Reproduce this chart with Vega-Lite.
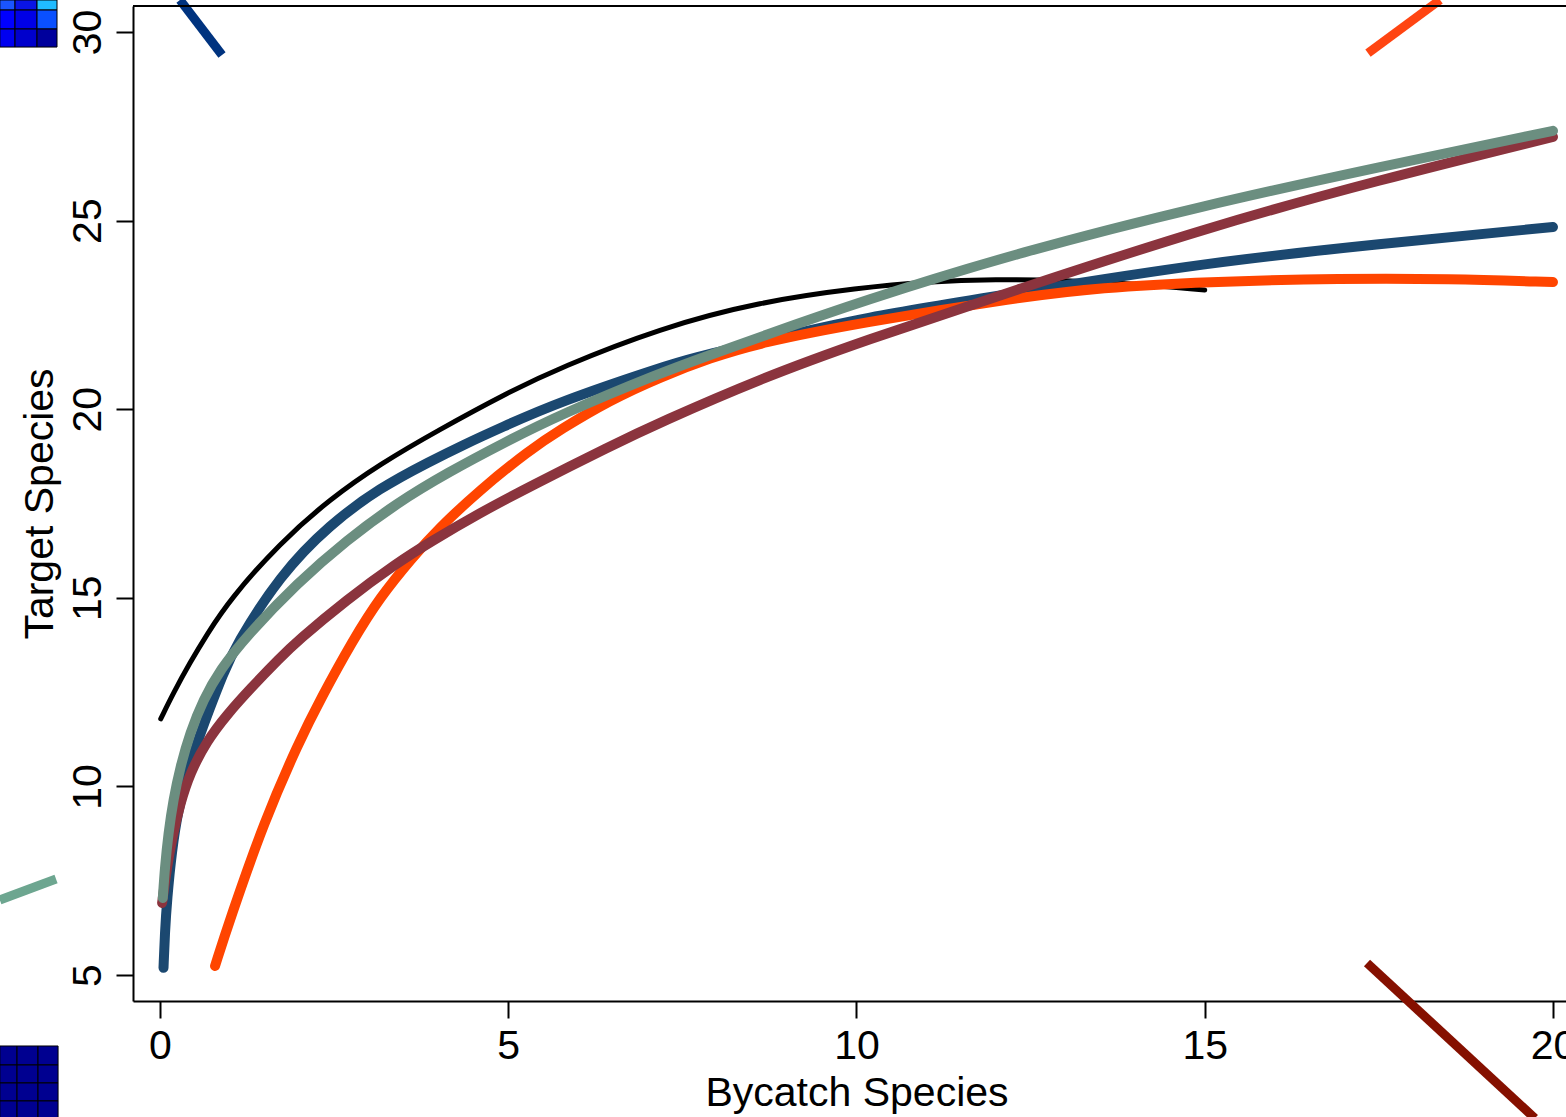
{
  "$schema": "https://vega.github.io/schema/vega-lite/v6.json",
  "width": 1433,
  "height": 995,
  "autosize": {"type": "none"},
  "padding": {"left": 133, "top": 6, "right": 0, "bottom": 116},
  "background": "white",
  "config": {"view": {"stroke": null}, "font": "Liberation Sans"},
  "datasets": {
    "curves": [
      {"s": "k", "x": 0.01, "y": 11.79}, {"s": "k", "x": 0.19, "y": 12.47}, {"s": "k", "x": 0.43, "y": 13.28}, {"s": "k", "x": 0.67, "y": 14.02}, {"s": "k", "x": 1.0, "y": 14.95}, {"s": "k", "x": 1.72, "y": 16.45}, {"s": "k", "x": 2.44, "y": 17.62}, {"s": "k", "x": 3.16, "y": 18.55}, {"s": "k", "x": 4.0, "y": 19.45}, {"s": "k", "x": 5.0, "y": 20.45}, {"s": "k", "x": 5.74, "y": 21.1}, {"s": "k", "x": 7.18, "y": 22.15}, {"s": "k", "x": 8.61, "y": 22.85}, {"s": "k", "x": 10.05, "y": 23.22}, {"s": "k", "x": 11.0, "y": 23.38}, {"s": "k", "x": 12.0, "y": 23.45}, {"s": "k", "x": 13.0, "y": 23.42}, {"s": "k", "x": 14.0, "y": 23.32}, {"s": "k", "x": 15.0, "y": 23.16},

      {"s": "b", "x": 0.05, "y": 5.19}, {"s": "b", "x": 0.07, "y": 6.11}, {"s": "b", "x": 0.1, "y": 6.99}, {"s": "b", "x": 0.17, "y": 8.31}, {"s": "b", "x": 0.26, "y": 9.37}, {"s": "b", "x": 0.38, "y": 10.25}, {"s": "b", "x": 0.53, "y": 11.15}, {"s": "b", "x": 0.72, "y": 12.1}, {"s": "b", "x": 0.9, "y": 12.95}, {"s": "b", "x": 1.08, "y": 13.72}, {"s": "b", "x": 1.72, "y": 15.6}, {"s": "b", "x": 2.44, "y": 16.95}, {"s": "b", "x": 3.16, "y": 17.92}, {"s": "b", "x": 3.88, "y": 18.62}, {"s": "b", "x": 4.35, "y": 19.05}, {"s": "b", "x": 4.88, "y": 19.5}, {"s": "b", "x": 5.74, "y": 20.2}, {"s": "b", "x": 7.18, "y": 21.1}, {"s": "b", "x": 7.65, "y": 21.36}, {"s": "b", "x": 8.61, "y": 21.78}, {"s": "b", "x": 10.05, "y": 22.42}, {"s": "b", "x": 12.35, "y": 23.1}, {"s": "b", "x": 15.0, "y": 23.88}, {"s": "b", "x": 17.5, "y": 24.38}, {"s": "b", "x": 20.0, "y": 24.83},

      {"s": "o", "x": 0.79, "y": 5.24}, {"s": "o", "x": 1.0, "y": 6.45}, {"s": "o", "x": 1.5, "y": 9.1}, {"s": "o", "x": 2.0, "y": 11.2}, {"s": "o", "x": 2.3, "y": 12.3}, {"s": "o", "x": 2.77, "y": 13.88}, {"s": "o", "x": 3.16, "y": 15.02}, {"s": "o", "x": 3.63, "y": 16.08}, {"s": "o", "x": 3.98, "y": 16.8}, {"s": "o", "x": 4.59, "y": 17.86}, {"s": "o", "x": 5.31, "y": 18.92}, {"s": "o", "x": 5.74, "y": 19.45}, {"s": "o", "x": 6.46, "y": 20.24}, {"s": "o", "x": 7.18, "y": 20.85}, {"s": "o", "x": 7.9, "y": 21.36}, {"s": "o", "x": 8.61, "y": 21.76}, {"s": "o", "x": 10.05, "y": 22.29}, {"s": "o", "x": 12.35, "y": 22.97}, {"s": "o", "x": 13.5, "y": 23.22}, {"s": "o", "x": 15.0, "y": 23.38}, {"s": "o", "x": 17.0, "y": 23.47}, {"s": "o", "x": 18.5, "y": 23.46}, {"s": "o", "x": 20.0, "y": 23.37},

      {"s": "m", "x": 0.03, "y": 6.91}, {"s": "m", "x": 0.1, "y": 7.86}, {"s": "m", "x": 0.17, "y": 8.6}, {"s": "m", "x": 0.29, "y": 9.55}, {"s": "m", "x": 0.43, "y": 10.35}, {"s": "m", "x": 0.67, "y": 11.2}, {"s": "m", "x": 0.96, "y": 11.9}, {"s": "m", "x": 1.3, "y": 12.6}, {"s": "m", "x": 1.72, "y": 13.4}, {"s": "m", "x": 1.97, "y": 13.85}, {"s": "m", "x": 2.68, "y": 14.95}, {"s": "m", "x": 3.4, "y": 15.92}, {"s": "m", "x": 3.88, "y": 16.48}, {"s": "m", "x": 4.59, "y": 17.25}, {"s": "m", "x": 5.31, "y": 17.95}, {"s": "m", "x": 6.46, "y": 19.02}, {"s": "m", "x": 7.18, "y": 19.65}, {"s": "m", "x": 8.61, "y": 20.8}, {"s": "m", "x": 10.05, "y": 21.78}, {"s": "m", "x": 12.35, "y": 23.2}, {"s": "m", "x": 15.0, "y": 24.8}, {"s": "m", "x": 17.5, "y": 26.08}, {"s": "m", "x": 20.0, "y": 27.22},

      {"s": "g", "x": 0.04, "y": 7.04}, {"s": "g", "x": 0.07, "y": 7.86}, {"s": "g", "x": 0.12, "y": 8.76}, {"s": "g", "x": 0.19, "y": 9.64}, {"s": "g", "x": 0.29, "y": 10.51}, {"s": "g", "x": 0.43, "y": 11.42}, {"s": "g", "x": 0.62, "y": 12.29}, {"s": "g", "x": 0.86, "y": 13.09}, {"s": "g", "x": 1.25, "y": 14.0}, {"s": "g", "x": 1.97, "y": 15.39}, {"s": "g", "x": 2.68, "y": 16.53}, {"s": "g", "x": 3.4, "y": 17.51}, {"s": "g", "x": 4.12, "y": 18.31}, {"s": "g", "x": 4.98, "y": 19.15}, {"s": "g", "x": 5.74, "y": 19.85}, {"s": "g", "x": 7.18, "y": 20.96}, {"s": "g", "x": 7.9, "y": 21.44}, {"s": "g", "x": 8.61, "y": 21.91}, {"s": "g", "x": 10.05, "y": 22.85}, {"s": "g", "x": 12.35, "y": 24.17}, {"s": "g", "x": 15.0, "y": 25.41}, {"s": "g", "x": 17.5, "y": 26.42}, {"s": "g", "x": 20.0, "y": 27.38}
    ],
    "strokes": [
      {"id": "navy", "x": 0.287, "y": 30.85}, {"id": "navy", "x": 0.89, "y": 29.39},
      {"id": "orange", "x": 17.344, "y": 29.443}, {"id": "orange", "x": 18.378, "y": 30.85},
      {"id": "teal", "x": -2.3, "y": 6.988}, {"id": "teal", "x": -1.493, "y": 7.545},
      {"id": "darkred", "x": 17.33, "y": 5.318}, {"id": "darkred", "x": 19.74, "y": 1.2}
    ],
    "cells": [
      {"k": "t11", "x": -2.3, "x2": -2.082, "y": 30.85, "y2": 30.583},
      {"k": "t12", "x": -2.082, "x2": -1.766, "y": 30.85, "y2": 30.583},
      {"k": "t13", "x": -1.766, "x2": -1.479, "y": 30.85, "y2": 30.583},
      {"k": "t21", "x": -2.3, "x2": -2.082, "y": 30.583, "y2": 30.08},
      {"k": "t22", "x": -2.082, "x2": -1.766, "y": 30.583, "y2": 30.08},
      {"k": "t23", "x": -1.766, "x2": -1.479, "y": 30.583, "y2": 30.08},
      {"k": "t31", "x": -2.3, "x2": -2.082, "y": 30.08, "y2": 29.602},
      {"k": "t32", "x": -2.082, "x2": -1.766, "y": 30.08, "y2": 29.602},
      {"k": "t33", "x": -1.766, "x2": -1.479, "y": 30.08, "y2": 29.602},
      {"k": "b", "x": -2.3, "x2": -2.053, "y": 3.117, "y2": 2.614},
      {"k": "b", "x": -2.053, "x2": -1.752, "y": 3.117, "y2": 2.614},
      {"k": "b", "x": -1.752, "x2": -1.464, "y": 3.117, "y2": 2.614},
      {"k": "b", "x": -2.3, "x2": -2.053, "y": 2.614, "y2": 2.137},
      {"k": "b", "x": -2.053, "x2": -1.752, "y": 2.614, "y2": 2.137},
      {"k": "b", "x": -1.752, "x2": -1.464, "y": 2.614, "y2": 2.137},
      {"k": "b", "x": -2.3, "x2": -2.053, "y": 2.137, "y2": 1.66},
      {"k": "b", "x": -2.053, "x2": -1.752, "y": 2.137, "y2": 1.66},
      {"k": "b", "x": -1.752, "x2": -1.464, "y": 2.137, "y2": 1.66},
      {"k": "b", "x": -2.3, "x2": -2.053, "y": 1.66, "y2": 1.2},
      {"k": "b", "x": -2.053, "x2": -1.752, "y": 1.66, "y2": 1.2},
      {"k": "b", "x": -1.752, "x2": -1.464, "y": 1.66, "y2": 1.2}
    ],
    "frame": [
      {"x": -0.388, "x2": 20.187, "y": 30.69}
    ]
  },
  "encoding": {
    "x": {
      "field": "x", "type": "quantitative",
      "scale": {"domain": [-0.388, 20.187], "zero": false, "nice": false},
      "axis": {
        "values": [0, 5, 10, 15, 20], "grid": false, "labelFlush": false, "labelOverlap": false, "labelBound": false,
        "labelFontSize": 41, "labelColor": "#000000", "labelPadding": 8, "labelFont": "Liberation Sans",
        "tickSize": 17, "tickWidth": 2, "tickColor": "#000000", "domainColor": "#000000", "domainWidth": 2,
        "title": "Bycatch Species", "titleFontSize": 41, "titleFontWeight": "normal", "titleColor": "#000000", "titleFont": "Liberation Sans",
        "titleX": 723.5, "titleY": 104, "titleAlign": "center", "titleBaseline": "alphabetic", "titleAnchor": null
      }
    },
    "y": {
      "field": "y", "type": "quantitative",
      "scale": {"domain": [4.31, 30.69], "zero": false, "nice": false},
      "axis": {
        "values": [5, 10, 15, 20, 25, 30], "grid": false, "labelFlush": false, "labelOverlap": false, "labelBound": false,
        "labelFontSize": 41, "labelColor": "#000000", "labelPadding": 16, "labelAngle": -90, "labelAlign": "center", "labelBaseline": "alphabetic", "labelFont": "Liberation Sans",
        "tickSize": 17, "tickWidth": 2, "tickColor": "#000000", "domainColor": "#000000", "domainWidth": 2,
        "title": "Target Species", "titleFontSize": 41, "titleFontWeight": "normal", "titleColor": "#000000", "titleFont": "Liberation Sans",
        "titleAngle": -90, "titleX": -81, "titleY": 497.5, "titleAlign": "center", "titleBaseline": "alphabetic", "titleAnchor": null
      }
    }
  },
  "layer": [
    {
      "data": {"name": "cells"},
      "mark": {"type": "rect", "stroke": "#000000", "strokeWidth": 1},
      "encoding": {
        "x2": {"field": "x2"},
        "y2": {"field": "y2"},
        "fill": {"field": "k", "type": "nominal", "legend": null,
          "scale": {"domain": ["t11", "t12", "t13", "t21", "t22", "t23", "t31", "t32", "t33", "b"],
                    "range": ["#1A55FF", "#0A14E6", "#20BCFF", "#0000FF", "#0000E6", "#0A50FF", "#0000F0", "#0000CC", "#00009C", "#000090"]}}
      }
    },
    {
      "data": {"name": "strokes"},
      "mark": {"type": "line", "strokeWidth": 9, "strokeCap": "butt"},
      "encoding": {
        "detail": {"field": "id"},
        "color": {"field": "id", "type": "nominal", "legend": null,
          "scale": {"domain": ["navy", "orange", "teal", "darkred"], "range": ["#00337F", "#FF4512", "#6DA690", "#851000"]}}
      }
    },
    {
      "data": {"name": "frame"},
      "mark": {"type": "rule", "strokeWidth": 2, "color": "#000000"},
      "encoding": {"x2": {"field": "x2"}}
    },
    {
      "data": {"name": "curves"},
      "transform": [{"filter": "datum.s === 'k'"}],
      "mark": {"type": "line", "interpolate": "basis", "strokeWidth": 5, "strokeCap": "round", "strokeJoin": "round", "color": "#000000"},
      "encoding": {}
    },
    {
      "data": {"name": "curves"},
      "transform": [{"filter": "datum.s === 'b'"}],
      "mark": {"type": "line", "interpolate": "basis", "strokeWidth": 10, "strokeCap": "round", "strokeJoin": "round", "color": "#1B4870"},
      "encoding": {}
    },
    {
      "data": {"name": "curves"},
      "transform": [{"filter": "datum.s === 'o'"}],
      "mark": {"type": "line", "interpolate": "basis", "strokeWidth": 10, "strokeCap": "round", "strokeJoin": "round", "color": "#FF4500"},
      "encoding": {}
    },
    {
      "data": {"name": "curves"},
      "transform": [{"filter": "datum.s === 'm'"}],
      "mark": {"type": "line", "interpolate": "basis", "strokeWidth": 10, "strokeCap": "round", "strokeJoin": "round", "color": "#8B343E"},
      "encoding": {}
    },
    {
      "data": {"name": "curves"},
      "transform": [{"filter": "datum.s === 'g'"}],
      "mark": {"type": "line", "interpolate": "basis", "strokeWidth": 10, "strokeCap": "round", "strokeJoin": "round", "color": "#6B8E80"},
      "encoding": {}
    }
  ]
}
